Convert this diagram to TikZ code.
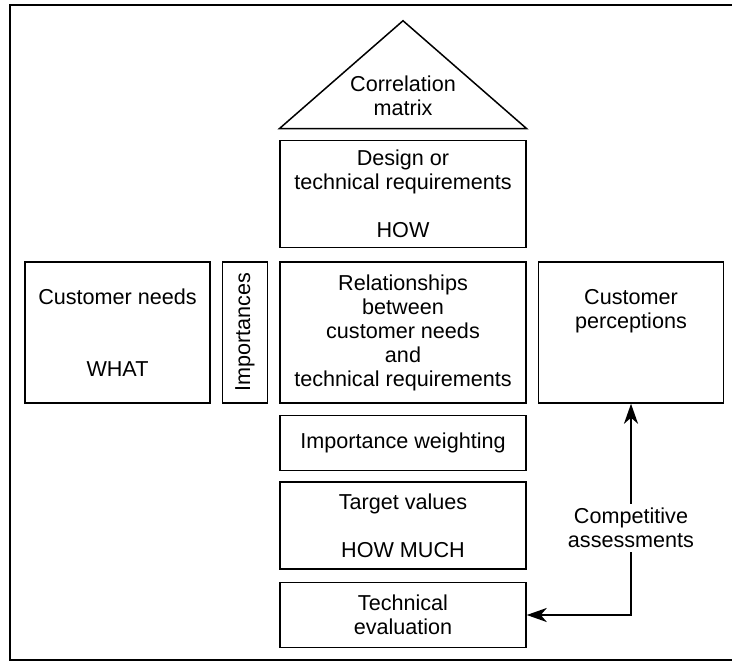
\documentclass[tikz,border=0pt]{standalone}
\usepackage{fontspec}
\setmainfont{Liberation Sans}
\usetikzlibrary{arrows.meta,positioning}

\begin{document}
\begin{tikzpicture}[
    x=0.5pt, y=0.5pt,
    txt/.style={font=\fontsize{10.8}{12}\selectfont, align=center},
    box/.style={txt, draw, line width=0.75pt, minimum width=123pt, inner sep=0pt},
    sidebox/.style={box, minimum width=92.5pt, minimum height=70.5pt},
    link/.style={line width=1.1pt},
    >={Stealth[length=10pt, width=7pt, inset=3pt]}
]
\useasboundingbox (0,0) rectangle (732,663);
\clip (0,0) rectangle (732,663);
\draw[line width=1.25pt] (10,3) rectangle (760,658);

% middle column
\node[box, minimum height=70.5pt] (rel) at (403,330.5) {Relationships\\between\\customer needs\\and\\technical requirements};
\node[box, minimum height=53.5pt, above=6.5pt of rel] (design) {Design or\\technical requirements\\[12pt]HOW};
\node[box, minimum height=27.5pt, below=5.5pt of rel] (weight) {Importance weighting};
\node[box, minimum height=43.5pt, below=5pt of weight] (target) {Target values\\[12pt]HOW MUCH};
\node[box, minimum height=32.5pt, below=6pt of target] (techeval) {Technical\\evaluation};

% roof
\coordinate[above=5.5pt of design.north west] (roofl);
\coordinate[above=5.5pt of design.north east] (roofr);
\coordinate[above=59.5pt of design.north] (rooftop);
\draw[line width=0.75pt] (roofl) -- (rooftop) -- (roofr) -- cycle;
\node[txt, above=8.5pt of design.north] (corr) {Correlation\\matrix};

% side rooms
\node[box, minimum width=22.5pt, minimum height=70.5pt, left=5.5pt of rel] (imp) {\rotatebox{90}{Importances}};
\node[sidebox, left=5.5pt of imp] (needs) {Customer needs\\[24pt]WHAT};
\node[sidebox, right=5.5pt of rel] (persp) {Customer\\perceptions\\~\\~};

\node[txt, inner sep=2pt, below=50pt of persp] (assess) {Competitive\\assessments};
\draw[link, ->] (assess) -- (persp);
\draw[link, ->] (assess) |- (techeval);
\end{tikzpicture}
\end{document}
